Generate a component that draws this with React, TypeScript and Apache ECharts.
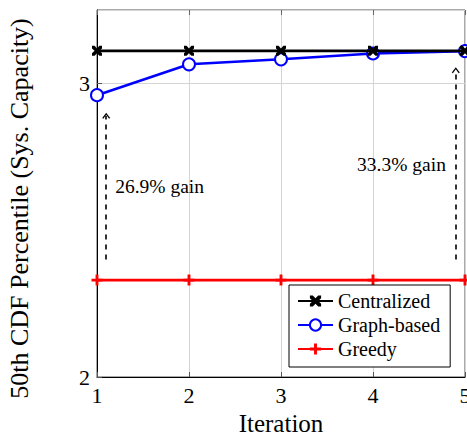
import React, { useEffect, useRef } from "react";
import * as echarts from "echarts";

const iterations = [1, 2, 3, 4, 5];
const centralized = [3.111, 3.111, 3.111, 3.111, 3.111];
const graphBased = [2.96, 3.065, 3.082, 3.102, 3.11];
const greedy = [2.33, 2.33, 2.33, 2.33, 2.33];
const seriesNames = ["Centralized", "Graph-based", "Greedy"];
const gainArrowX = [1.1, 4.9];
const gainArrowFrom = [2.4, 2.4];
const gainArrowTo = [2.89, 3.045];
const gainLabels = ["26.9% gain", "33.3% gain"];
const gainLabelX = [1.68, 4.31];
const gainLabelY = [2.65, 2.723];

const FONT = "Liberation Serif";
const X_SYMBOL =
  "path://M0,0 L2.6,0 L5,2.6 L7.4,0 L10,0 L10,2.6 L7.4,5 L10,7.4 L10,10 L7.4,10 L5,7.4 L2.6,10 L0,10 L0,7.4 L2.6,5 L0,2.6 Z";
const PLUS_SYMBOL =
  "path://M3.7,0 L6.3,0 L6.3,3.7 L10,3.7 L10,6.3 L6.3,6.3 L6.3,10 L3.7,10 L3.7,6.3 L0,6.3 L0,3.7 L3.7,3.7 Z";
const CHEVRON = "path://M0,8 L5,0 L10,8 L8.6,8.9 L5,3.2 L1.4,8.9 Z";

export default function App() {
  const ref = useRef<HTMLDivElement>(null);
  useEffect(() => {
    if (!ref.current) return;
    const chart = echarts.init(ref.current, undefined, { renderer: "svg" });
    const pts = (ys: number[]) => iterations.map((x, i) => [x, ys[i]]);
    const option: any = {
      animation: false,
      backgroundColor: "#ffffff",
      textStyle: { fontFamily: FONT, color: "#000" },
      grid: {
        left: 97,
        right: 2,
        top: 10,
        bottom: 58,
        show: true,
        borderColor: "#555",
        borderWidth: 1,
        outerBoundsMode: "none",
        containLabel: false,
      },
      legend: {
        data: seriesNames,
        orient: "vertical",
        left: 289,
        top: 285,
        itemWidth: 35,
        itemHeight: 14,
        itemGap: 4,
        padding: [6, 10, 8, 8],
        borderColor: "#000",
        borderWidth: 1,
        backgroundColor: "#fff",
        textStyle: { fontFamily: FONT, fontSize: 20, color: "#000" },
      },
      xAxis: [
        {
          type: "value",
          min: 1,
          max: 5,
          interval: 1,
          name: "Iteration",
          nameLocation: "middle",
          nameGap: 30,
          nameTextStyle: { fontFamily: FONT, fontSize: 25, color: "#000" },
          axisLine: { show: true, lineStyle: { color: "#000", width: 1 } },
          axisTick: { show: true, inside: true, length: 5, lineStyle: { color: "#555" } },
          axisLabel: { fontFamily: FONT, fontSize: 22, color: "#000", margin: 7 },
          splitLine: { show: true, lineStyle: { color: "#d4d4d4", width: 1 } },
        },
        {
          type: "value",
          position: "top",
          min: 1,
          max: 5,
          interval: 1,
          axisLine: { show: false },
          axisTick: { show: true, inside: true, length: 5, lineStyle: { color: "#666" } },
          axisLabel: { show: false },
          splitLine: { show: false },
        },
      ],
      yAxis: [
        {
          type: "value",
          min: 2,
          max: 3.25,
          interval: 1,
          name: "50th CDF Percentile (Sys. Capacity)",
          nameLocation: "middle",
          nameGap: 65,
          nameTextStyle: { fontFamily: FONT, fontSize: 26, color: "#000", padding: [0, 30, 0, 0] },
          axisLine: { show: true, lineStyle: { color: "#000", width: 1 } },
          axisTick: { show: true, inside: true, length: 5, lineStyle: { color: "#555" } },
          axisLabel: { fontFamily: FONT, fontSize: 22, color: "#000", margin: 7, showMaxLabel: false },
          splitLine: { show: true, lineStyle: { color: "#d4d4d4", width: 1 } },
        },
      ],
      series: [
        {
          name: "Centralized",
          type: "line",
          data: pts(centralized),
          symbol: X_SYMBOL,
          symbolSize: 10,
          showAllSymbol: true,
          lineStyle: { color: "#000", width: 2.8 },
          itemStyle: { color: "#000" },
          z: 5,
        },
        {
          name: "Graph-based",
          type: "line",
          data: pts(graphBased),
          symbol: "emptyCircle",
          symbolSize: 12,
          showAllSymbol: true,
          lineStyle: { color: "#0000ff", width: 2.6 },
          itemStyle: { color: "#0000ff", borderColor: "#0000ff", borderWidth: 2.6 },
          z: 4,
        },
        {
          name: "Greedy",
          type: "line",
          data: pts(greedy),
          symbol: PLUS_SYMBOL,
          symbolSize: 11,
          showAllSymbol: true,
          lineStyle: { color: "#ff0000", width: 2.8 },
          itemStyle: { color: "#ff0000" },
          z: 3,
        },
        {
          name: "gain",
          type: "line",
          data: [],
          silent: true,
          markLine: {
            silent: true,
            symbol: ["none", CHEVRON],
            symbolSize: [8, 6],
            label: { show: false },
            lineStyle: { color: "#000", type: [5, 5], width: 1.6 },
            emphasis: { disabled: true },
            data: gainArrowX.map((x, i) => [
              { coord: [x, gainArrowFrom[i]] },
              { coord: [x, gainArrowTo[i]] },
            ]),
          },
          markPoint: {
            silent: true,
            symbol: "circle",
            symbolSize: 0,
            label: {
              show: true,
              position: "inside",
              fontFamily: FONT,
              fontSize: 19.5,
              color: "#000",
              formatter: (p: any) => p.name,
            },
            data: gainLabels.map((t, i) => ({
              name: t,
              coord: [gainLabelX[i], gainLabelY[i]],
            })),
          },
        },
      ],
    };
    chart.setOption(option);
    return () => chart.dispose();
  }, []);
  return (
    <div
      ref={ref}
      style={{ position: "fixed", left: 0, top: 0, width: 467, height: 435 }}
    />
  );
}
